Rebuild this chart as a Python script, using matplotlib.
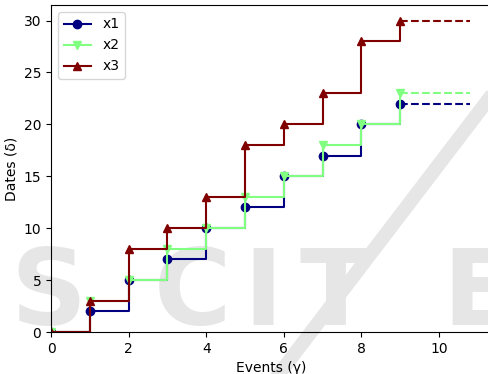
import matplotlib
matplotlib.use('Agg')
import matplotlib.pyplot as plt
from matplotlib.lines import Line2D

events = [0, 1, 2, 3, 4, 5, 6, 7, 8, 9]
x1 = [0, 2, 5, 7, 10, 12, 15, 17, 20, 22]
x2 = [0, 3, 5, 8, 10, 13, 15, 18, 20, 23]
x3 = [0, 3, 8, 10, 13, 18, 20, 23, 28, 30]
tail_end = 10.8

series = [("x1", x1, "navy", "o"),
          ("x2", x2, "#80ff80", "v"),
          ("x3", x3, "maroon", "^")]

W, H = 488, 374
fig = plt.figure(figsize=(W / 100, H / 100), dpi=100)

# faint watermark behind the plot (letters placed one by one)
wm = "#e6e6e6"
for ch, cx in zip("SCITE", [48, 192, 263, 336, 478]):
    fig.text(cx / W, 1 - 325 / H, ch, fontsize=76, fontweight="bold",
             color=wm, ha="center", va="baseline", zorder=-5)
fig.add_artist(Line2D([1.0, 279 / W], [1 - 100 / H, 0.0], color=wm,
                      lw=10, zorder=-5, transform=fig.transFigure))

ax = fig.add_axes([51 / W, 42 / H, 440 / W, 327 / H])
ax.patch.set_alpha(0)

for name, ys, col, mk in series:
    ax.step(events, ys, where="post", color=col, marker=mk, label=name)
    ax.plot([events[-1], tail_end], [ys[-1], ys[-1]], "--", color=col)

ax.set_xlim(0, 11.34)
ax.set_ylim(0, 31.5)
ax.set_xlabel("Events (γ)")
ax.set_ylabel("Dates (δ)")
ax.legend(loc="upper left")

fig.savefig("out.png", dpi=100)
